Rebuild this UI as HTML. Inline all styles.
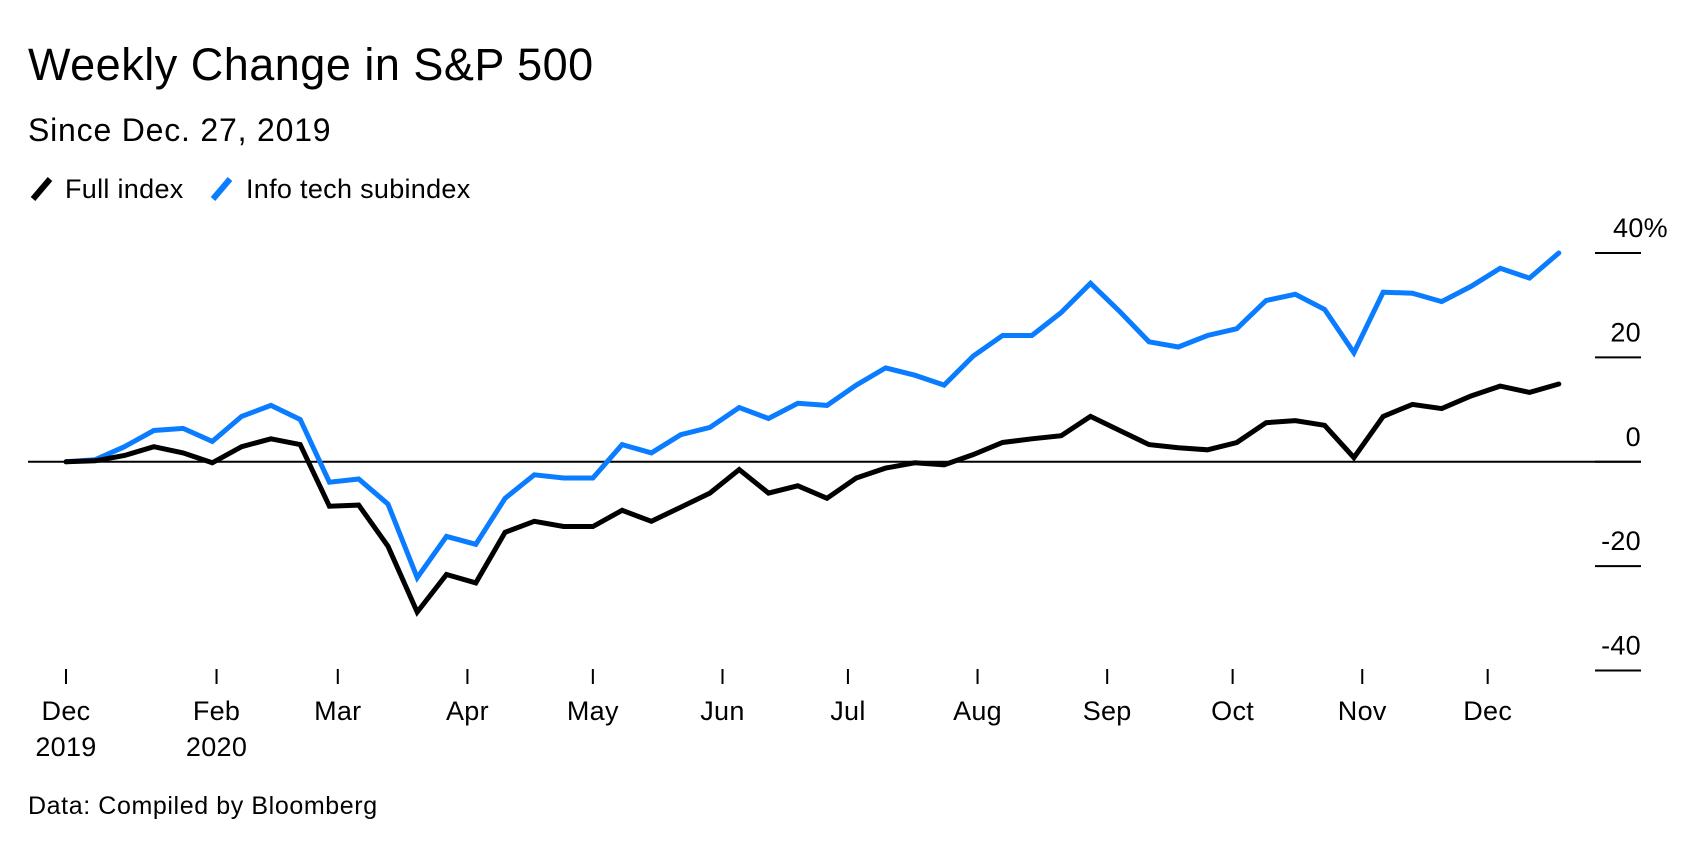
<!DOCTYPE html>
<html><head><meta charset="utf-8">
<style>
body{margin:0;background:#fff;}
svg{display:block;font-family:"Liberation Sans",Arial,sans-serif;}
</style></head>
<body>
<svg id="chart" width="1696" height="844" viewBox="0 0 1696 844">
<text x="28" y="80" font-size="45" letter-spacing="0.5" fill="#000">Weekly Change in S&amp;P 500</text>
<text x="28" y="141" font-size="32" letter-spacing="0.8" fill="#000">Since Dec. 27, 2019</text>
<g>
<g><line x1="33" y1="199" x2="50" y2="179" stroke="#000" stroke-width="6"/><text x="65" y="198" font-size="27" letter-spacing="0.3">Full index</text></g>
<g><line x1="213" y1="199" x2="230" y2="179" stroke="#0a7cff" stroke-width="6"/><text x="246" y="198" font-size="27" letter-spacing="0.3">Info tech subindex</text></g>
</g>
<g id="axes"></g>
<g id="series"></g>
<text x="28" y="814" font-size="25" letter-spacing="0.6" fill="#000">Data: Compiled by Bloomberg</text>
</svg>
<script>
const fullIndex=[0,0.2,1.2,2.9,1.7,-0.2,2.9,4.4,3.3,-8.5,-8.3,-16.2,-28.8,-21.6,-23.2,-13.5,-11.4,-12.4,-12.4,-9.3,-11.4,-8.7,-6.0,-1.5,-6.0,-4.6,-7.0,-3.1,-1.2,-0.2,-0.6,1.4,3.7,4.4,5.0,8.7,6.0,3.3,2.7,2.3,3.7,7.5,7.9,7.0,0.8,8.7,11.0,10.2,12.6,14.5,13.3,14.9];
const infoTech=[0,0.4,2.9,6.0,6.4,3.9,8.7,10.8,8.1,-3.9,-3.3,-8.1,-22.2,-14.3,-15.8,-7.0,-2.5,-3.1,-3.1,3.3,1.7,5.2,6.6,10.4,8.3,11.2,10.8,14.7,18.0,16.6,14.7,20.3,24.2,24.2,28.6,34.2,28.8,23.0,22.0,24.2,25.5,30.9,32.1,29.2,20.9,32.5,32.3,30.7,33.6,37.1,35.2,40.0];
const yTicks=[40,20,0,-20,-40];
const yTickLabels=["40%","20","0","-20","-40"];
const monthDays=[0,36,65,96,126,157,187,218,249,279,310,340];
const monthLabels=["Dec","Feb","Mar","Apr","May","Jun","Jul","Aug","Sep","Oct","Nov","Dec"];
const yearLabels=["2019","2020","","","","","","","","","",""];

const NS="http://www.w3.org/2000/svg";
const X0=66, STEP=29.27, Y0=461.8, PPU=5.219;
const xw=i=>X0+i*STEP;
const xd=d=>X0+d/7*STEP;
const y=v=>Y0-v*PPU;
function mk(tag,attrs,parent){const e=document.createElementNS(NS,tag);for(const k in attrs)e.setAttribute(k,attrs[k]);parent.appendChild(e);return e;}
const axes=document.getElementById('axes'), series=document.getElementById('series');

yTicks.forEach((v,i)=>{
  const t=mk('line',{x1:1595,x2:1641,y1:y(v),y2:y(v),stroke:'#000','stroke-width':2},axes);
  
  
  const l=mk('text',{x:1641,y:y(v)-16,'font-size':27,'text-anchor':'end','letter-spacing':0.3},axes);
  l.textContent=yTickLabels[i];
  if(i===0)l.setAttribute('x',1668);
  
  
});
const zl=mk('line',{x1:28,x2:1641,y1:y(0),y2:y(0),stroke:'#000','stroke-width':2},axes);



monthDays.forEach((d,i)=>{
  const t=mk('line',{x1:xd(d),x2:xd(d),y1:669,y2:684,stroke:'#000','stroke-width':2},axes);
  
  
  const l=mk('text',{x:xd(d),y:720,'font-size':27,'text-anchor':'middle','letter-spacing':0.3},axes);
  l.textContent=monthLabels[i];
  
  
  if(yearLabels[i]){
    const yl=mk('text',{x:xd(d),y:756,'font-size':27,'text-anchor':'middle','letter-spacing':0.3},axes);
    yl.textContent=yearLabels[i];
    
    
  }
});

function line(data,color,name){
  const p=mk('polyline',{points:data.map((v,i)=>xw(i).toFixed(1)+','+y(v).toFixed(1)).join(' '),fill:'none',stroke:color,'stroke-width':5,'stroke-linejoin':'miter','stroke-linecap':'round'},series);
  
  
}
line(infoTech,'#0a7cff','info-tech-line');
line(fullIndex,'#000','full-index-line');
</script>
</body></html>
